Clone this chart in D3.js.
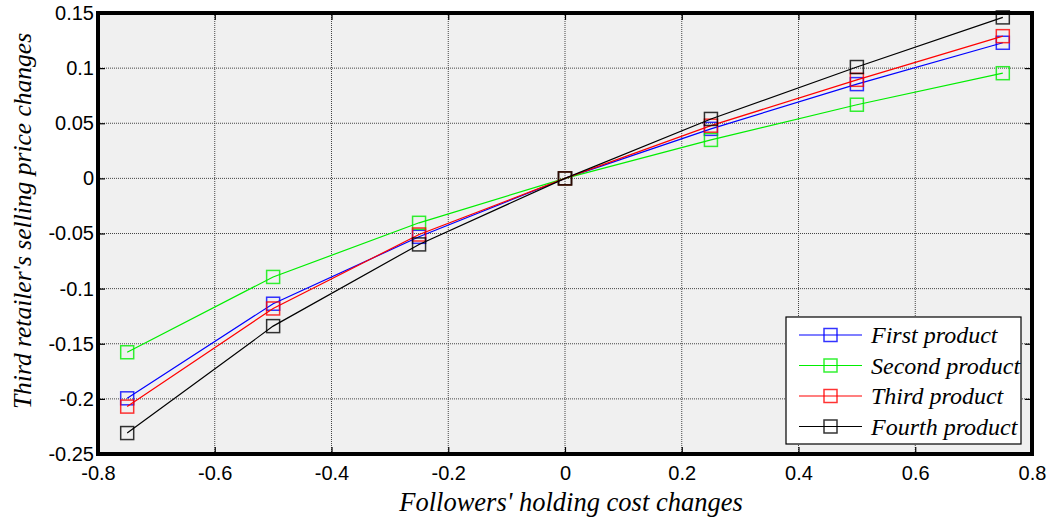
<!DOCTYPE html>
<html>
<head>
<meta charset="utf-8">
<script src="https://cdn.jsdelivr.net/npm/d3@7"></script>
<style>
  body { margin: 0; background: #fff; }
  svg { display: block; }
</style>
</head>
<body>
<svg id="chart" width="1052" height="522"></svg>
<script>
const xValues = [-0.75, -0.5, -0.25, 0, 0.25, 0.5, 0.75];
const firstProduct = [-0.1995, -0.1137, -0.053, 0, 0.0449, 0.0855, 0.123];
const secondProduct = [-0.1577, -0.0894, -0.0403, 0, 0.0349, 0.0668, 0.0954];
const thirdProduct = [-0.207, -0.118, -0.0509, 0, 0.0478, 0.0894, 0.129];
const fourthProduct = [-0.231, -0.134, -0.0599, 0, 0.0539, 0.101, 0.146];
const seriesNames = ["First product", "Second product", "Third product", "Fourth product"];
const seriesColors = ["#0000ff", "#00ee00", "#ff0000", "#000000"];
const xTicks = [-0.8, -0.6, -0.4, -0.2, 0, 0.2, 0.4, 0.6, 0.8];
const yTicks = [-0.25, -0.2, -0.15, -0.1, -0.05, 0, 0.05, 0.1, 0.15];

const series = [firstProduct, secondProduct, thirdProduct, fourthProduct].map((vals, i) => ({
    name: seriesNames[i],
    color: seriesColors[i],
    points: vals.map((v, j) => ({ x: xValues[j], y: v }))
}));

const plotLeft = 98, plotRight = 1032, plotTop = 13, plotBottom = 454;
const serif = "'Liberation Serif', 'Times New Roman', serif";
const sans = "'Liberation Sans', Arial, sans-serif";

const x = d3.scaleLinear().domain([-0.8, 0.8]).range([plotLeft, plotRight]);
const y = d3.scaleLinear().domain([-0.25, 0.15]).range([plotBottom, plotTop]);

const svg = d3.select("#chart");

// plot background
svg.append("rect")
    .attr("x", plotLeft).attr("y", plotTop)
    .attr("width", plotRight - plotLeft).attr("height", plotBottom - plotTop)
    .attr("fill", "#f0f0f0");

// grid
const grid = svg.append("g");
grid.selectAll(".gx")
    .data(xTicks.slice(1, -1))
    .join("line")
    .attr("x1", d => x(d)).attr("x2", d => x(d))
    .attr("y1", plotTop).attr("y2", plotBottom)
    .attr("stroke", "#444").attr("stroke-width", 1)
    .attr("stroke-dasharray", "1,1");
grid.selectAll(".gy")
    .data(yTicks.slice(1, -1))
    .join("line")
    .attr("x1", plotLeft).attr("x2", plotRight)
    .attr("y1", d => y(d)).attr("y2", d => y(d))
    .attr("stroke", "#444").attr("stroke-width", 1)
    .attr("stroke-dasharray", "1,1");

// axes
const fmt = d => (d === 0 ? "0" : String(+d.toFixed(2)));
const xAxis = svg.append("g")
    .attr("transform", `translate(0,${plotBottom})`)
    .call(d3.axisBottom(x).tickValues(xTicks).tickFormat(fmt).tickSizeInner(-7).tickSizeOuter(0).tickPadding(12));
const yAxis = svg.append("g")
    .attr("transform", `translate(${plotLeft},0)`)
    .call(d3.axisLeft(y).tickValues(yTicks).tickFormat(fmt).tickSizeInner(-7).tickSizeOuter(0).tickPadding(4));
// ticks on the right and top edges
svg.append("g")
    .attr("transform", `translate(${plotRight},0)`)
    .call(d3.axisRight(y).tickValues(yTicks).tickFormat("").tickSizeInner(-7).tickSizeOuter(0))
    .select(".domain").remove();
svg.append("g")
    .attr("transform", `translate(0,${plotTop})`)
    .call(d3.axisTop(x).tickValues(xTicks).tickFormat("").tickSizeInner(-7).tickSizeOuter(0))
    .select(".domain").remove();

svg.selectAll(".tick line").attr("stroke", "#000").attr("stroke-width", 1.2);
[xAxis, yAxis].forEach(a => {
    a.select(".domain").remove();
    a.selectAll("text")
        .attr("font-family", sans)
        .attr("font-size", 20)
        .attr("fill", "#000");
});

// frame
svg.append("rect")
    .attr("x", plotLeft).attr("y", plotTop)
    .attr("width", plotRight - plotLeft).attr("height", plotBottom - plotTop)
    .attr("fill", "none").attr("stroke", "#000").attr("stroke-width", 4);

// lines and markers
const line = d3.line().x(d => x(d.x)).y(d => y(d.y));
const g = svg.append("g");
series.forEach(s => {
    g.append("path")
        .datum(s.points)
        .attr("d", line)
        .attr("fill", "none")
        .attr("stroke", s.color)
        .attr("stroke-width", 1.2);
    g.selectAll(null)
        .data(s.points)
        .join("rect")
        .attr("x", d => x(d.x) - 6.5)
        .attr("y", d => y(d.y) - 6.5)
        .attr("width", 13).attr("height", 13)
        .attr("fill", "none")
        .attr("stroke", s.color)
        .attr("stroke-opacity", 0.8)
        .attr("stroke-width", 1.5);
});

// axis titles
svg.append("text")
    .attr("x", 571)
    .attr("y", 511)
    .attr("text-anchor", "middle")
    .attr("font-family", serif)
    .attr("font-style", "italic")
    .attr("font-size", 26.5)
    .text("Followers' holding cost changes");
svg.append("text")
    .attr("transform", "translate(31,221) rotate(-90)")
    .attr("text-anchor", "middle")
    .attr("font-family", serif)
    .attr("font-style", "italic")
    .attr("font-size", 25.5)
    .text("Third retailer's selling price changes");

// legend
const lg = svg.append("g").attr("transform", "translate(786,317)");
lg.append("rect")
    .attr("width", 235).attr("height", 127)
    .attr("fill", "#fff").attr("stroke", "#000").attr("stroke-width", 1.2);
const items = lg.selectAll(".item")
    .data(series)
    .join("g")
    .attr("transform", (d, i) => `translate(0,${18 + i * 30.5})`);
items.append("line")
    .attr("x1", 13).attr("x2", 76)
    .attr("stroke", d => d.color).attr("stroke-width", 1.2);
items.append("rect")
    .attr("x", 38).attr("y", -6.5).attr("width", 13).attr("height", 13)
    .attr("fill", "none").attr("stroke", d => d.color)
    .attr("stroke-opacity", 0.8).attr("stroke-width", 1.5);
items.append("text")
    .attr("x", 85).attr("y", 8)
    .attr("font-family", serif)
    .attr("font-style", "italic")
    .attr("font-size", 24)
    .text(d => d.name);
</script>
</body>
</html>
